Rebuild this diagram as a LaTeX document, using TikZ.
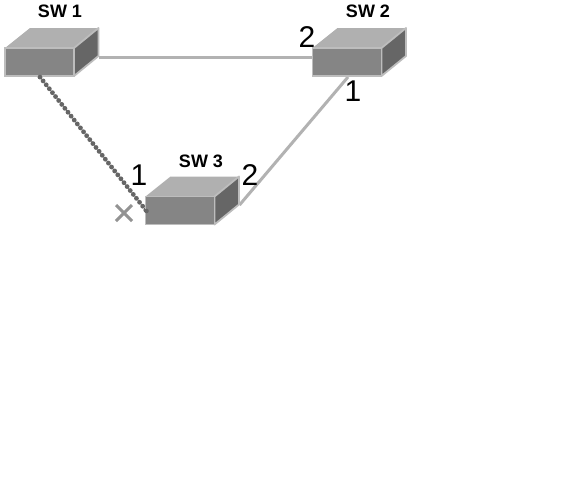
\documentclass[tikz,border=0pt]{standalone}
\usepackage{fontspec}
\setmainfont{Liberation Sans}
\usetikzlibrary{calc,backgrounds}
\definecolor{frontc}{gray}{0.52}
\definecolor{topc}{gray}{0.69}
\definecolor{sidec}{gray}{0.40}
\definecolor{edgec}{gray}{0.74}
\definecolor{linkc}{gray}{0.70}
\definecolor{dotc}{gray}{0.40}
\tikzset{x=1pt,y=-1pt,
  front/.style={draw=edgec,line width=1.8pt,fill=frontc,minimum width=69pt,minimum height=28pt,inner sep=0pt,outer sep=0pt},
  topface/.style={fill=topc,draw=none},
  sideface/.style={fill=sidec,draw=edgec,line width=1.8pt,line join=round},
  swlabel/.style={font=\bfseries\fontsize{18}{18}\selectfont,inner sep=0pt,text=black},
  portlabel/.style={font=\fontsize{30}{30}\selectfont,inner sep=0pt,text=black},
  link/.style={draw=linkc,line width=3pt},
  blocked/.style={draw=dotc,line width=4.8pt,line cap=round,dash pattern=on 0pt off 5pt},
  crossmark/.style={draw=gray!85,line width=3pt}
}
\newcommand{\switchbox}[3]{%
  \fill[topface] ($(#1,#2)+(-34.5,-14)$) -- ++(25,-20) -- ++(69,0) -- ++(-25,20) -- cycle;
  \draw[sideface] ($(#1,#2)+(34.5,-14)$) -- ++(24.5,-20) -- ++(0,28) -- ++(-24.5,20) -- cycle;
  \node[front] (#3) at (#1,#2) {};
}
\begin{document}
\begin{tikzpicture}
\useasboundingbox (0,0) rectangle (584,479);
\switchbox{39.5}{62}{sw1}
\switchbox{347}{62}{sw2}
\switchbox{180}{210.5}{sw3}
\coordinate (sw1r) at ($(sw1.east)+(25,-5)$);
\coordinate (sw3r) at ($(sw3.east)+(25,-5.5)$);
\coordinate (sw1b) at ($(sw1.south)+(0.5,1)$);
\coordinate (sw2b) at ($(sw2.south)+(1,1)$);
\coordinate (sw3l) at ($(sw3.west)+(1,0.5)$);
\coordinate (xc) at (124,213);
\begin{pgfonlayer}{background}
\fill[white] (0,0) rectangle (584,479);
\draw[crossmark] ($(xc)+(-8,-8)$) -- ($(xc)+(8,8)$);
\draw[crossmark] ($(xc)+(-8,8)$) -- ($(xc)+(8,-8)$);
\draw[link] (sw1r) -- (sw2.west |- sw1r);
\draw[link] (sw2b) -- (sw3r);
\draw[blocked] (sw1b) -- (sw3l);
\end{pgfonlayer}
\fill[dotc] (sw1b) circle (2.3pt);
\fill[dotc] (sw3l) circle (2.3pt);
\node[swlabel] (l1) at (60,11) {SW 1};
\node[swlabel] (l2) at (368,11) {SW 2};
\node[swlabel] (l3) at (201,161) {SW 3};
\node[portlabel] (p1) at (139,175) {1};
\node[portlabel] (p2) at (250,175) {2};
\node[portlabel] (p3) at (307,37) {2};
\node[portlabel] (p4) at (353,91) {1};
\end{tikzpicture}
\end{document}
